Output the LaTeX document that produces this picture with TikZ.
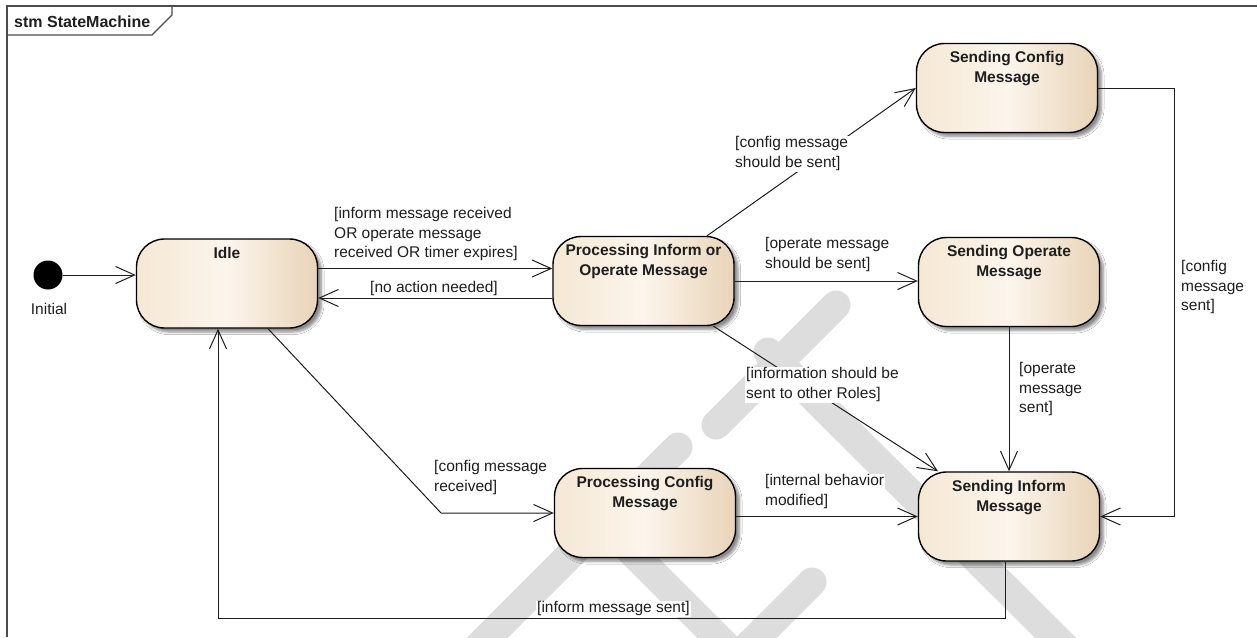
\documentclass[tikz,border=0pt]{standalone}
\usepackage{fontspec}
\setmainfont{Liberation Sans}
\usetikzlibrary{arrows.meta, shadows.blur}
\definecolor{stL}{HTML}{F5E8D4}
\definecolor{stM}{HTML}{FCF5EC}
\definecolor{stR}{HTML}{E8D4B8}
\definecolor{wmark}{HTML}{DDDDDD}
\definecolor{ink}{HTML}{1E1E1E}

\begin{document}
\begin{tikzpicture}[x=1pt, y=-1pt,
  every node/.style={font=\fontsize{15.5pt}{19.5pt}\selectfont},
  state/.style={rectangle, rounded corners=28pt, draw=black, line width=1.4pt,
    minimum width=181pt, minimum height=89pt, inner sep=0pt,
    left color=stL, right color=stR, middle color=stM,
    blur shadow={shadow xshift=4pt, shadow yshift=-4pt, shadow blur steps=6,
      shadow blur radius=2.5pt, shadow opacity=45}},
  stitle/.style={anchor=north, yshift=-8.5pt, inner sep=0pt, align=center,
    font=\fontsize{15.5pt}{20pt}\selectfont\bfseries, text=ink},
  guard/.style={anchor=north west, align=left, inner sep=1pt, fill=white, text=ink},
  tr/.style={draw=ink, line width=1pt, -{Straight Barb[length=19pt,width=17pt]}},
  wm/.style={draw=wmark, line width=29pt, line cap=round},
  frame/.style={draw=black!70, line width=1.2pt}
]
\useasboundingbox (0,0) rectangle (1257,637);
\fill[white] (0,0) rectangle (1257,637);

% faint background strokes
\draw[wm] (836,305) -- (716,425);
\draw[wm] (768,352) -- (1085,667);
\draw[wm] (678,447) -- (470,655);
\draw[wm] (600,520) -- (780,700);
\draw[wm] (812,582) -- (740,654);

% diagram frame with its name tab
\draw[frame] (7,637) -- (7,6) -- (1257,6);
\draw[frame] (7,35) -- (152,35) -- (172,15) -- (172,6);
\node[anchor=west, inner sep=0pt, font=\fontsize{16pt}{18pt}\selectfont\bfseries, text=ink]
  (frametitle) at (14,21.5) {stm StateMachine};

% states
\node[circle, fill=black, minimum size=29pt, inner sep=0pt] (init) at (48,275) {};
\node[text=ink] (initlbl) at (49,309) {Initial};

\node[state, label={[stitle]north:Idle}] (idle) at (227,283.5) {};
\node[state, label={[stitle]north:Processing Inform or\\Operate Message}] (pio) at (643.5,281) {};
\node[state, label={[stitle]north:Sending Config\\Message}] (sc) at (1007,88) {};
\node[state, label={[stitle]north:Sending Operate\\Message}] (so) at (1009,282) {};
\node[state, label={[stitle]north:Sending Inform\\Message}] (si) at (1009,516.5) {};
\node[state, label={[stitle]north:Processing Config\\Message}] (pc) at (645,513) {};

% transitions
\draw[tr] (init.east) -- (init.east -| idle.west);
\draw[tr] ([yshift=15pt]idle.east) coordinate (a1) -- (a1 -| pio.west);
\draw[tr] ([yshift=-17pt]pio.west) coordinate (a2) -- (a2 -| idle.east);
\draw[tr] ([xshift=63.5pt]pio.north) -- (sc.west);
\draw[tr] (pio.east) -- (pio.east -| so.west);
\draw[tr] ([xshift=70pt]pio.south) -- ([xshift=-71pt]si.north);
\draw[tr] (so.south) -- (si.north);
\draw[tr] (sc.east) -- ++(76,0) |- (si.east);
\coordinate (bend) at (441,513);
\draw[tr] ([xshift=41pt]idle.south) -- (bend) -- (pc.west);
\draw[tr] (pc.east |- si.west) -- (si.west);
\draw[tr] ([xshift=-4pt]si.south) -- ++(0,57) -| ([xshift=-9pt]idle.south);

% guards
\node[guard] (g1) at (333,206.5) {[inform message received\\OR operate message\\received OR timer expires]};
\node[guard] (g2) at (369,280.5) {[no action needed]};
\node[guard] (g3) at (734,135.5) {[config message\\should be sent]};
\node[guard] (g4) at (764,236.5) {[operate message\\should be sent]};
\node[guard] (g5) at (745,366.5) {[information should be\\sent to other Roles]};
\node[guard] (g6) at (1018,361.5) {[operate\\message\\sent]};
\node[guard] (g7) at (1180,259.5) {[config\\message\\sent]};
\node[guard] (g8) at (433,459.5) {[config message\\received]};
\node[guard] (g9) at (764,473.5) {[internal behavior\\modified]};
\node[guard] (g10) at (536,600.5) {[inform message sent]};
\end{tikzpicture}
\end{document}
